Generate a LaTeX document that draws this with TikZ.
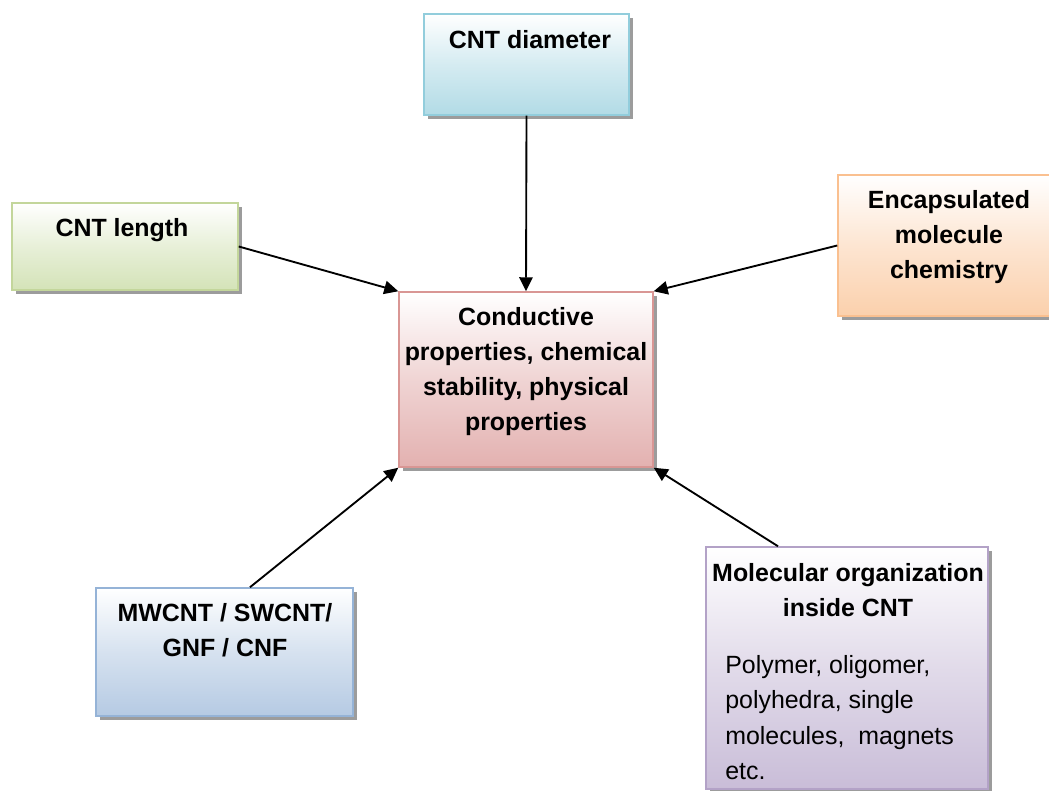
\documentclass[tikz,border=0pt]{standalone}
\usepackage{fontspec}
\setmainfont{Liberation Sans}
\usetikzlibrary{arrows.meta,shadows}
\definecolor{diaB}{HTML}{92CDDC}\definecolor{diaF}{HTML}{B2DBE6}
\definecolor{lenB}{HTML}{C3D69B}\definecolor{lenF}{HTML}{D4E3B8}
\definecolor{encB}{HTML}{FAC090}\definecolor{encF}{HTML}{FBD0AC}
\definecolor{ctrB}{HTML}{D99694}\definecolor{ctrF}{HTML}{E3B1B0}
\definecolor{mwB}{HTML}{95B3D7}\definecolor{mwF}{HTML}{B5CAE3}
\definecolor{molB}{HTML}{B3A2C7}\definecolor{molF}{HTML}{C9BDD8}
\tikzset{
  box/.style 2 args={rectangle, draw=#1, line width=1.1pt, top color=white, bottom color=#2,
    middle color=#2!55!white,
    drop shadow={shadow xshift=2.8pt, shadow yshift=-2.8pt, fill=black!55, opacity=0.7}},
  lbl/.style={inner sep=0pt, anchor=north, align=center, font=\fontsize{18.7}{26.25}\selectfont\bfseries},
  plain/.style={inner sep=0pt, anchor=north west, align=left, font=\fontsize{18.7}{26.5}\selectfont},
  arr/.style={line width=1.4pt, -{Triangle[length=10.5pt,width=10pt]}}
}
\begin{document}
\begin{tikzpicture}[x=0.75pt,y=-0.75pt]
\clip (0,0) rectangle (1049,791);
\fill[white] (0,0) rectangle (1049,791);
\node[box={diaB}{diaF}, minimum width=153.75pt, minimum height=75.75pt] (dia) at (526.5,64.5) {};
\node[box={lenB}{lenF}, minimum width=169.5pt, minimum height=65.25pt] (len) at (125,246.5) {};
\node[box={encB}{encF}, minimum width=166.5pt, minimum height=105.75pt] (enc) at (949,245.5) {};
\node[box={ctrB}{ctrF}, minimum width=190.5pt, minimum height=131.25pt] (ctr) at (526,379.5) {};
\node[box={mwB}{mwF}, minimum width=192.75pt, minimum height=96pt] (mw) at (224.5,652) {};
\node[box={molB}{molF}, minimum width=211.5pt, minimum height=181.5pt] (mol) at (847,668) {};

\node[lbl] (tdia) at (530,30) {CNT diameter};
\node[lbl] (tlen) at (122,218) {CNT length};
\node[lbl] (tenc) at (949,190) {Encapsulated\\molecule\\chemistry};
\node[lbl] (tctr) at (526,307) {Conductive\\properties, chemical\\stability, physical\\properties};
\node[lbl] (tmw) at (225,603) {MWCNT / SWCNT/\\GNF / CNF};
\node[lbl] (tmol) at (848,563) {Molecular organization\\inside CNT};
\node[plain] (tmol2) at (725,655) {Polymer, oligomer,\\polyhedra, single\\molecules,~ magnets\\etc.};

\draw[arr] (len.east) -- (ctr.north west);
\draw[arr] (dia.south) -- (ctr.north);
\draw[arr] (enc.west) -- (ctr.north east);
\draw[arr] ([xshift=19.1pt]mw.north) -- (ctr.south west);
\draw[arr] ([xshift=-51.75pt]mol.north) -- (ctr.south east);
\end{tikzpicture}
\end{document}
